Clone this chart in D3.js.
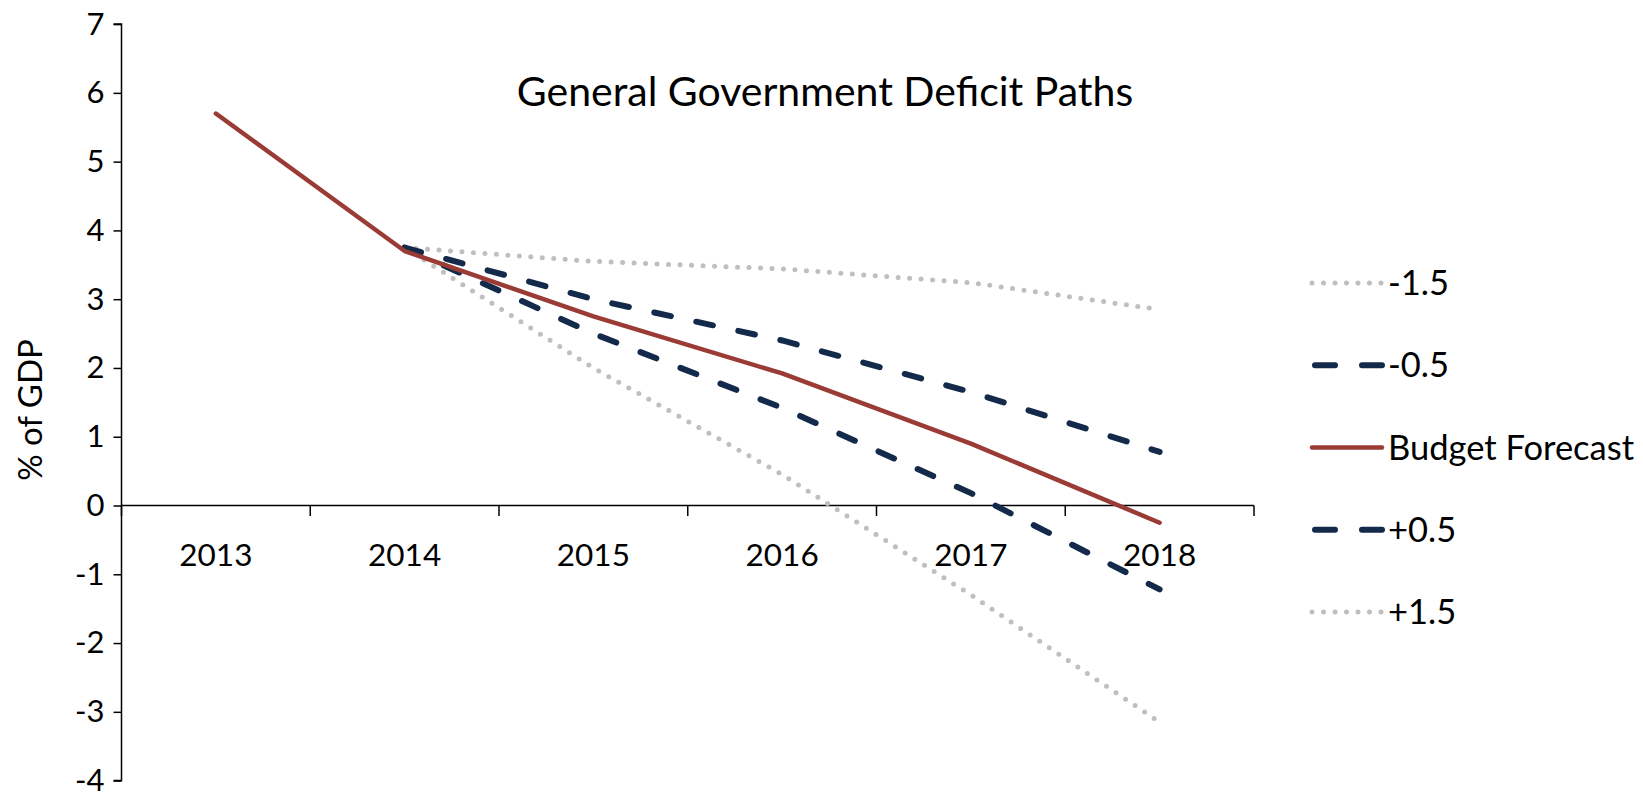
<!DOCTYPE html>
<html>
<head>
<meta charset="utf-8">
<script src="https://cdn.jsdelivr.net/npm/d3@7"></script>
<style>
  html, body { margin: 0; padding: 0; background: #fff; }
  svg { display: block; font-family: Lato, "Open Sans", sans-serif; }
</style>
</head>
<body>
<svg id="chart" width="1643" height="796"></svg>
<script>
const years = ["2013", "2014", "2015", "2016", "2017", "2018"];
const yTicks = [-4, -3, -2, -1, 0, 1, 2, 3, 4, 5, 6, 7];
const minus15 = [null, 3.75, 3.55, 3.44, 3.24, 2.85];
const minus05 = [null, 3.75, 3.0, 2.4, 1.65, 0.78];
const budget = [5.7, 3.7, 2.75, 1.92, 0.9, -0.25];
const plus05 = [null, 3.75, 2.5, 1.42, 0.18, -1.22];
const plus15 = [null, 3.75, 2.0, 0.45, -1.3, -3.15];
const seriesNames = ["-1.5", "-0.5", "Budget Forecast", "+0.5", "+1.5"];
const chartTitle = "General Government Deficit Paths";
const yLabel = "% of GDP";

const styles = {
  "-1.5": { color: "#BFBFBF", width: 5, dash: "0 11.5" },
  "-0.5": { color: "#132A4A", width: 6, dash: "17 26" },
  "Budget Forecast": { color: "#9B3B36", width: 4.5, dash: null },
  "+0.5": { color: "#132A4A", width: 6, dash: "17 26" },
  "+1.5": { color: "#BFBFBF", width: 5, dash: "0 11.5" }
};
const seriesData = {
  "-1.5": minus15, "-0.5": minus05, "Budget Forecast": budget, "+0.5": plus05, "+1.5": plus15
};
const drawOrder = ["-1.5", "+1.5", "-0.5", "+0.5", "Budget Forecast"];

const svg = d3.select("#chart");
const x = d3.scaleBand().domain(years).range([121.5, 1254]);
const y = d3.scaleLinear().domain([-4, 7]).range([780.6, 24.1]);
const cx = d => x(d) + x.bandwidth() / 2;

// Y axis
const yAxis = svg.append("g").attr("transform", `translate(${x.range()[0]},0)`)
  .call(d3.axisLeft(y).tickValues(yTicks).tickSize(8).tickPadding(9).tickFormat(d3.format("d")));
yAxis.select(".domain").attr("stroke", "#000").attr("stroke-width", 1.5).attr("d", `M-8,${y(7)}H0V${y(-4)}H-8`);
yAxis.selectAll(".tick line").attr("stroke", "#000").attr("stroke-width", 1.5);
yAxis.selectAll(".tick text").attr("font-size", 31).attr("fill", "#000")
  .attr("font-family", "Lato, 'Open Sans', sans-serif").text(d => d < 0 ? "-" + Math.abs(d) : d);

// X axis at zero (ticks at category boundaries)
const xg = svg.append("g").attr("transform", `translate(0,${y(0)})`);
xg.append("line").attr("x1", x.range()[0]).attr("x2", x.range()[1]).attr("stroke", "#000").attr("stroke-width", 1.5);
const bounds = years.map(d => x(d)).concat([x.range()[1]]);
xg.selectAll("line.tk").data(bounds).enter().append("line").attr("class", "tk")
  .attr("x1", d => d).attr("x2", d => d).attr("y1", 0).attr("y2", 10.5)
  .attr("stroke", "#000").attr("stroke-width", 1.5);
xg.selectAll("text").data(years).enter().append("text")
  .attr("x", d => cx(d)).attr("y", 60).attr("text-anchor", "middle")
  .attr("font-size", 31.5).attr("fill", "#000").text(d => d);

// Lines
const line = d3.line().defined(d => d.v !== null).x(d => cx(d.year)).y(d => y(d.v));
drawOrder.forEach(name => {
  const st = styles[name];
  const pts = years.map((yr, i) => ({ year: yr, v: seriesData[name][i] }));
  svg.append("path").datum(pts).attr("d", line)
    .attr("fill", "none").attr("stroke", st.color).attr("stroke-width", st.width)
    .attr("stroke-linecap", "round").attr("stroke-linejoin", "round")
    .attr("stroke-dasharray", st.dash);
});

// Title
svg.append("text").attr("x", 825).attr("y", 106).attr("text-anchor", "middle")
  .attr("font-size", 41).attr("fill", "#000").text(chartTitle);

// Y label
svg.append("text").attr("transform", "translate(42,410) rotate(-90)")
  .attr("text-anchor", "middle").attr("font-size", 33).attr("fill", "#000").text(yLabel);

// Legend
const legendY = d3.scalePoint().domain(seriesNames).range([283, 612]);
const lg = svg.append("g");
seriesNames.forEach(name => {
  const st = styles[name];
  const yy = legendY(name);
  lg.append("line").attr("x1", 1312).attr("x2", 1382).attr("y1", yy).attr("y2", yy)
    .attr("stroke", st.color).attr("stroke-width", st.width)
    .attr("stroke-linecap", "round").attr("stroke-dasharray", st.dash ? (st.dash.startsWith("0") ? "0 11.5" : "20 27") : null)
    .attr("transform", st.dash && !st.dash.startsWith("0") ? "translate(3,0)" : null);
  lg.append("text").attr("x", 1388).attr("y", yy).attr("dy", "0.35em")
    .attr("font-size", 34.5).attr("fill", "#000").text(name);
});
</script>
</body>
</html>
